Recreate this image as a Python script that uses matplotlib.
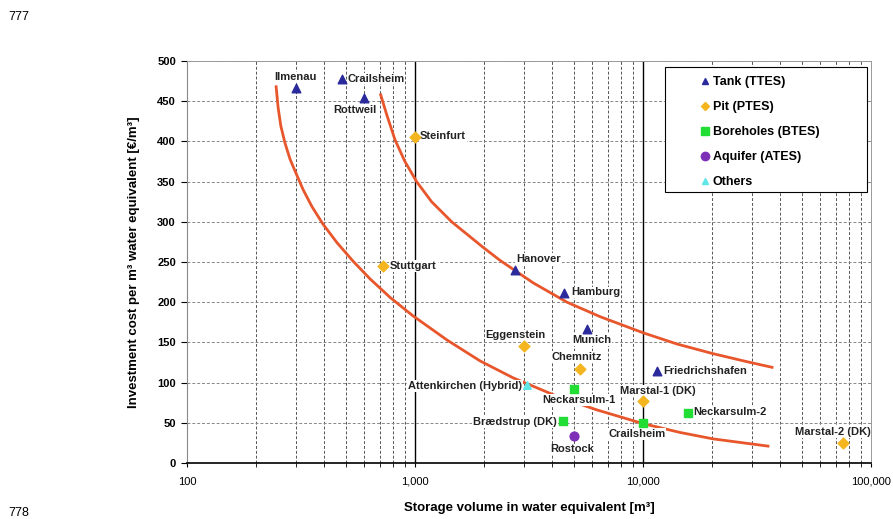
import matplotlib
matplotlib.use('Agg')
import matplotlib.pyplot as plt
from matplotlib.lines import Line2D
from matplotlib.patches import Rectangle
from matplotlib.ticker import FixedLocator, FuncFormatter, NullFormatter

plt.rcParams['font.family'] = ['Liberation Sans', 'DejaVu Sans']

# storage volume [m3] / investment cost [EUR/m3] per storage type
tank_names = ['Ilmenau', 'Crailsheim', 'Rottweil', 'Hanover', 'Hamburg', 'Munich', 'Friedrichshafen']
tank_volume = [300, 480, 600, 2750, 4500, 5700, 11500]
tank_cost = [466, 478, 454, 240, 211, 167, 115]

pit_names = ['Steinfurt', 'Stuttgart', 'Eggenstein', 'Chemnitz', 'Marstal-1 (DK)', 'Marstal-2 (DK)']
pit_volume = [1000, 725, 3000, 5300, 10000, 75000]
pit_cost = [405, 245, 145, 117, 77, 25]

btes_names = ['Neckarsulm-1', 'Brædstrup (DK)', 'Crailsheim', 'Neckarsulm-2']
btes_volume = [5000, 4450, 10000, 15700]
btes_cost = [92, 52, 50, 62]

ates_names = ['Rostock']
ates_volume = [5000]
ates_cost = [33]

other_names = ['Attenkirchen (Hybrid)']
other_volume = [3100]
other_cost = [97]

# the two cost trend curves
low_curve_volume = [246, 251, 258, 269, 283, 301, 323, 353, 395, 455, 535, 635, 777, 980,
                    1381, 1928, 2690, 4196, 6283, 10000, 14530, 20280, 35330]
low_curve_cost = [468, 442, 419, 398, 378, 360, 340, 319, 297, 274, 251, 229, 206, 183,
                  153, 127, 106, 83, 66, 49, 38, 30, 21]
high_curve_volume = [707, 752, 817, 903, 1016, 1182, 1448, 1994, 2360, 3300, 4640, 6480,
                     10000, 14090, 20270, 28560, 36800]
high_curve_cost = [458, 433, 402, 375, 350, 325, 300, 268, 252, 224, 200, 182,
                   162, 148, 136, 126, 119]

# label offsets in pixels (dx, dy, ha)
label_pos = {
    'Ilmenau': (0, 11, 'center'), 'Crailsheim': (5, 0, 'left'), 'Rottweil': (-10, -12, 'center'),
    'Hanover': (1, 11, 'left'), 'Hamburg': (7, 1, 'left'), 'Munich': (4, -11, 'center'),
    'Friedrichshafen': (6, 0, 'left'),
    'Steinfurt': (5, 1, 'left'), 'Stuttgart': (7, 0, 'left'), 'Eggenstein': (-8, 11, 'center'),
    'Chemnitz': (-3, 12, 'center'), 'Marstal-1 (DK)': (15, 10, 'center'), 'Marstal-2 (DK)': (-10, 11, 'center'),
    'Neckarsulm-1': (4, -11, 'center'), 'Brædstrup (DK)': (-6, -1, 'right'),
    'Crailsheim_b': (-6, -11, 'center'), 'Neckarsulm-2': (6, 1, 'left'),
    'Rostock': (-2, -13, 'center'), 'Attenkirchen (Hybrid)': (-5, -1, 'right'),
}

fig = plt.figure(figsize=(8.93, 5.19), dpi=100)
ax = fig.add_axes([0.2094, 0.1079, 0.7660, 0.7746])

ax.set_xscale('log')
ax.set_xlim(100, 100000)
ax.set_ylim(0, 500)

# grid
for v in [1000, 10000]:
    ax.axvline(v, color='black', lw=1.0, zorder=1)
minor = [m * d for d in [100, 1000, 10000] for m in range(2, 10)]
for v in minor:
    ax.axvline(v, color='#555555', lw=0.7, ls=(0, (3, 2)), zorder=1)
for v in range(50, 501, 50):
    ax.axhline(v, color='#888888', lw=0.7, ls=(0, (3, 2)), zorder=1)

ax.plot(low_curve_volume, low_curve_cost, color='#e8562c', lw=2, zorder=2)
ax.plot(high_curve_volume, high_curve_cost, color='#e8562c', lw=2, zorder=2)

tank_c = '#2a2a9c'
pit_c = '#f4b51f'
btes_c = '#22dd33'
ates_c = '#7d2fb8'
other_c = '#5fe6e6'

ax.scatter(tank_volume, tank_cost, marker='^', s=38, color=tank_c, zorder=5)
ax.scatter(pit_volume, pit_cost, marker='D', s=30, color=pit_c, zorder=5)
ax.scatter(btes_volume, btes_cost, marker='s', s=40, color=btes_c, zorder=5)
ax.scatter(ates_volume, ates_cost, marker='o', s=40, color=ates_c, zorder=5)
ax.scatter(other_volume, other_cost, marker='^', s=30, color=other_c, zorder=5)


def put_labels(names, xs, ys, key_suffix=''):
    for n, x, y in zip(names, xs, ys):
        key = n
        if key_suffix and n + key_suffix in label_pos:
            key = n + key_suffix
        dx, dy, ha = label_pos[key]
        ax.annotate(n, (x, y), xytext=(dx, dy), textcoords='offset pixels',
                    ha=ha, va='center', fontsize=8, fontweight='bold', color='#222222', zorder=4,
                    bbox=dict(facecolor='white', edgecolor='none', pad=0.6))


put_labels(tank_names, tank_volume, tank_cost)
put_labels(pit_names, pit_volume, pit_cost)
put_labels(btes_names, btes_volume, btes_cost, key_suffix='_b')
put_labels(ates_names, ates_volume, ates_cost)
put_labels(other_names, other_volume, other_cost)

# axes styling
ax.xaxis.set_major_locator(FixedLocator([100, 1000, 10000, 100000]))
ax.xaxis.set_major_formatter(FuncFormatter(lambda v, p: '{:,.0f}'.format(v)))
ax.xaxis.set_minor_locator(FixedLocator(minor))
ax.xaxis.set_minor_formatter(NullFormatter())
ax.set_yticks(range(0, 501, 50))
ax.tick_params(axis='x', which='both', length=3, labelsize=8, pad=7)
ax.tick_params(axis='y', length=4, labelsize=8, pad=4)
for t in ax.get_yticklabels():
    t.set_fontweight('bold')
ax.spines['left'].set_color('#888888')
ax.spines['bottom'].set_color('black')
ax.spines['bottom'].set_linewidth(1.2)
ax.spines['top'].set_color('#999999')
ax.spines['top'].set_linewidth(0.7)
ax.spines['right'].set_color('#999999')
ax.spines['right'].set_linewidth(0.7)

ax.set_xlabel('Storage volume in water equivalent [m³]', fontsize=9.5, fontweight='bold', labelpad=11)
ax.set_ylabel('Investment cost per m³ water equivalent [€/m³]', fontsize=9.5, fontweight='bold', labelpad=12)

# legend
ax.add_patch(Rectangle((0.699, 0.674), 0.295, 0.311, transform=ax.transAxes,
                       facecolor='white', edgecolor='black', lw=0.8, zorder=6))
handles = [
    Line2D([], [], ls='', marker='^', ms=5, color=tank_c),
    Line2D([], [], ls='', marker='D', ms=4, color=pit_c),
    Line2D([], [], ls='', marker='s', ms=6, color=btes_c),
    Line2D([], [], ls='', marker='o', ms=6, color=ates_c),
    Line2D([], [], ls='', marker='^', ms=5, color=other_c),
]
labels = ['Tank (TTES)', 'Pit (PTES)', 'Boreholes (BTES)', 'Aquifer (ATES)', 'Others']
leg = ax.legend(handles, labels, loc='upper left', bbox_to_anchor=(0.745, 0.975),
                frameon=False, prop={'size': 9, 'weight': 'bold'}, handlelength=0.6,
                handletextpad=0.3, labelspacing=1.04, borderaxespad=0)
leg.set_zorder(7)

fig.text(0.009, 0.967, '777', fontsize=9, va='center')
fig.text(0.009, 0.012, '778', fontsize=9, va='center')

fig.savefig('out.png', dpi=100)
